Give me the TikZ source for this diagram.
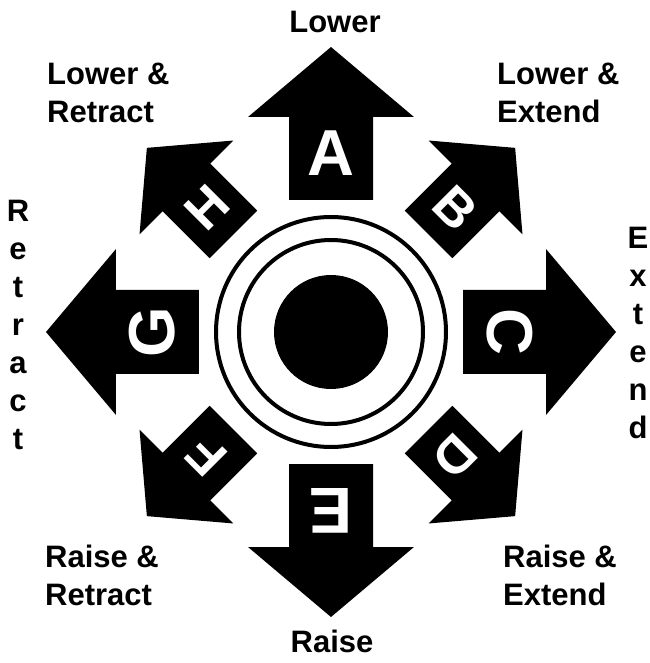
\documentclass[tikz,border=0pt]{standalone}
\usepackage{fontspec}
\setmainfont{Liberation Sans}

\begin{document}
\begin{tikzpicture}[x=1pt,y=1pt]
    \definecolor{arrowColour}{HTML}{000000}
    \definecolor{letterColour}{HTML}{FFFFFF}

    \tikzset{
        label/.style={inner sep=0pt, font=\fontsize{31}{38}\selectfont\bfseries},
        upright/.style={label, align=center, anchor=north},
    }

    % Page frame (origin at the centre of the knob)
    \useasboundingbox (-331,-331) rectangle (318,332);

    % Knob: filled centre and two rings
    \fill[arrowColour] (0,0) circle (57);
    \draw[line width=4pt] (0,0) circle (92);
    \draw[line width=4pt] (0,0) circle (115);

    % Arrows: angle / scale / start radius / letter / letter size
    \foreach \ang/\sc/\rad/\lab/\fs in {90/1/132/A/65, 45/0.8/138/B/52, 0/1/132/C/65, -45/0.8/138/D/52,
                                       -90/1/132/E/65, -135/0.8/138/F/52, 180/1/132/G/65, 135/0.8/138/H/52}
    {
        \begin{scope}[rotate=\ang, shift={(\rad,0)}, scale=\sc]
            \fill[arrowColour] (0,42) -- (83,42) -- (83,83) -- (153,0) -- (83,-83) -- (83,-42) -- (0,-42) -- cycle;
            \node[inner sep=0pt, text=letterColour, rotate=\ang-90,
                  font=\fontsize{\fs}{\fs}\selectfont\bfseries] (l\lab) at (47,0) {\lab};
        \end{scope}
    }

    % Label directions
    \node[label, anchor=base] (lower) at (4,299) {Lower};
    \node[label, anchor=base] (raise) at (1,-320) {Raise};
    \node[label, align=left, anchor=north west] (lowerRetract) at (-284,269) {Lower \&\\Retract};
    \node[label, align=left, anchor=north west] (lowerExtend) at (166,269) {Lower \&\\Extend};
    \node[label, align=left, anchor=north west] (raiseRetract) at (-286,-213) {Raise \&\\Retract};
    \node[label, align=left, anchor=north west] (raiseExtend) at (172,-213) {Raise \&\\Extend};
    \node[upright] (retract) at (-313,132) {R\\e\\t\\r\\a\\c\\t};
    \node[upright] (extend) at (307,105) {E\\x\\t\\e\\n\\d};

\end{tikzpicture}
\end{document}
